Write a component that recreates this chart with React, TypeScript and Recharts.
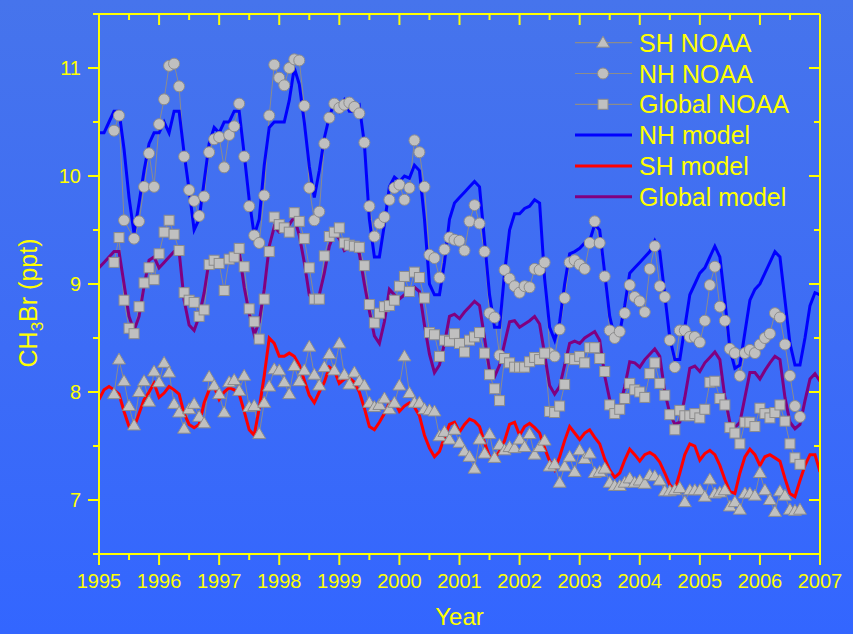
import React from "react";
import { LineChart, Line, XAxis, YAxis, Legend, Label } from "recharts";

const YELLOW = "#ffff00";
const FONT = '"Liberation Sans", Arial, Helvetica, sans-serif';
const MARK_FILL = "#c0c0c0";
const MARK_EDGE = "#8c8c8c";

const YEARS = [1995, 1996, 1997, 1998, 1999, 2000, 2001, 2002, 2003, 2004, 2005, 2006, 2007];
const PPT = [7, 8, 9, 10, 11];

// model output, one value per month from Jan 1995 to Jan 2007
const NH_MODEL = [
  10.4, 10.4, 10.5, 10.6, 10.6, 10.25, 9.8, 9.47, 9.75, 10.05, 10.3, 10.4,
  10.4, 10.5, 10.4, 10.6, 10.6, 10.21, 9.87, 9.5, 9.6, 9.95, 10.3, 10.45,
  10.4, 10.5, 10.5, 10.6, 10.6, 10.2, 9.78, 9.45, 9.6, 10.1, 10.45, 10.5,
  10.5, 10.5, 10.7, 11.0, 10.85, 10.5, 10.09, 9.8, 10.05, 10.35, 10.55, 10.68,
  10.6, 10.7, 10.6, 10.6, 10.65, 10.3, 9.6, 9.25, 9.25, 9.55, 9.9, 9.99,
  9.95, 10.0, 9.98, 10.1, 10.05, 9.6, 9.0, 8.9, 8.9, 9.2, 9.6, 9.75,
  9.8, 9.85, 9.9, 9.95, 9.9, 9.4, 8.9, 8.6, 8.6, 9.1, 9.5, 9.65,
  9.65, 9.7, 9.72, 9.78, 9.75, 9.05, 8.6, 8.48, 8.65, 9.0, 9.28, 9.3,
  9.33, 9.38, 9.4, 9.55, 9.5, 9.1, 8.7, 8.5, 8.55, 8.8, 9.1, 9.15,
  9.2, 9.25, 9.3, 9.4, 9.3, 8.9, 8.5, 8.3, 8.3, 8.6, 8.9, 9.0,
  9.1, 9.15, 9.25, 9.35, 9.25, 8.85, 8.4, 8.22, 8.25, 8.55, 8.85, 8.95,
  9.0, 9.1, 9.2, 9.3, 9.25, 8.85, 8.45, 8.25, 8.25, 8.5, 8.8, 8.92,
  8.9,
];

const SH_MODEL = [
  7.93, 8.02, 8.05, 8.02, 7.98, 7.82, 7.68, 7.67, 7.8, 7.93, 8.0, 8.08,
  7.95, 7.99, 8.05, 8.02, 7.98, 7.8, 7.7, 7.67, 7.7, 7.9, 8.02, 8.05,
  7.93, 8.0, 8.04, 8.02, 7.98, 7.82, 7.65, 7.6, 7.85, 8.15, 8.5, 8.45,
  8.33, 8.33, 8.36, 8.33, 8.25, 8.11, 7.97, 7.9, 8.0, 8.09, 8.23, 8.2,
  8.08, 8.12, 8.13, 8.09, 8.0, 7.85, 7.68, 7.65, 7.72, 7.8, 7.9, 7.92,
  7.82, 7.87, 7.9, 7.86, 7.78, 7.6, 7.48, 7.4, 7.45, 7.58, 7.7, 7.72,
  7.63, 7.7, 7.75, 7.73, 7.68, 7.53, 7.4, 7.38, 7.45, 7.55, 7.7, 7.72,
  7.6, 7.68, 7.71, 7.67, 7.62, 7.48, 7.36, 7.28, 7.4, 7.55, 7.68, 7.62,
  7.56, 7.62, 7.65, 7.58, 7.52, 7.38, 7.28, 7.21, 7.25, 7.37, 7.47, 7.42,
  7.36, 7.42, 7.44, 7.41, 7.35, 7.25, 7.14, 7.09, 7.25, 7.42, 7.52, 7.5,
  7.37, 7.43, 7.46, 7.42, 7.32, 7.19, 7.08, 7.06, 7.25, 7.4, 7.47, 7.42,
  7.32, 7.4, 7.42, 7.39, 7.36, 7.2, 7.06, 7.03, 7.18, 7.32, 7.42, 7.42,
  7.26,
];

const GLOBAL_MODEL = [
  9.15, 9.2, 9.25, 9.3, 9.3, 9.0, 8.7, 8.57, 8.7, 8.98, 9.22, 9.25,
  9.15, 9.2, 9.25, 9.3, 9.3, 8.85, 8.62, 8.57, 8.7, 8.92, 9.22, 9.24,
  9.17, 9.22, 9.25, 9.28, 9.3, 8.97, 8.73, 8.53, 8.65, 8.95, 9.35, 9.53,
  9.48, 9.5, 9.55, 9.62, 9.45, 9.2, 8.9, 8.84, 8.9, 9.1, 9.35, 9.47,
  9.42, 9.31, 9.34, 9.38, 9.28, 9.0, 8.75, 8.52, 8.45, 8.65, 8.95, 8.9,
  8.86, 8.9, 8.93, 8.97, 8.93, 8.62, 8.35, 8.18, 8.25, 8.45, 8.7, 8.72,
  8.68, 8.74, 8.79, 8.84, 8.8, 8.5, 8.2, 8.14, 8.25, 8.45, 8.65, 8.66,
  8.6, 8.63, 8.66, 8.7, 8.63, 8.35, 8.06, 7.98, 8.05, 8.25, 8.45, 8.47,
  8.45, 8.5, 8.53, 8.56, 8.48, 8.15, 7.93, 7.84, 7.86, 8.05, 8.28, 8.27,
  8.23, 8.3, 8.35, 8.4, 8.33, 8.0, 7.8, 7.7, 7.72, 7.95, 8.22, 8.24,
  8.19, 8.27, 8.32, 8.37, 8.3, 7.95, 7.72, 7.67, 7.72, 7.95, 8.18, 8.18,
  8.12, 8.2, 8.27, 8.33, 8.3, 7.95, 7.72, 7.66, 7.7, 7.92, 8.12, 8.17,
  8.1,
];

// NOAA flask monthly means, Apr 1995 to Sep 2006
const NH_NOAA = [
  10.42, 10.56, 9.59, null, 9.42, 9.58, 9.9, 10.21, 9.9, 10.48, 10.71, 11.02,
  11.04, 10.83, 10.18, 9.87, 9.77, 9.63, 9.81, 10.22, 10.34, 10.36, 10.08, 10.38,
  10.46, 10.67, 10.18, 9.72, 9.45, 9.38, 9.82, 10.56, 11.03, 10.91, 10.84, 11.0,
  11.08, 11.07, 10.65, 9.89, 9.59, 9.67, 10.3, 10.54, 10.67, 10.63, 10.66, 10.68,
  10.64, 10.58, 10.31, 9.72, 9.44, 9.56, 9.62, 9.78, 9.89, 9.92, 9.78, 9.89,
  10.33, 10.22, 9.9, 9.27, 9.24, 9.06, 9.32, 9.43, 9.41, 9.4, 9.31, 9.58,
  9.73, 9.56, 9.3, 8.73, 8.69, 8.34, 9.13, 9.05, 8.98, 8.92, 8.98, 8.97,
  9.14, 9.13, 9.2, 8.36, 8.33, 8.58, 8.87, 9.2, 9.22, 9.18, 9.14, 9.38,
  9.58, 9.38, 9.07, 8.57, 8.5, 8.56, 8.73, 8.99, 8.88, 8.84, 8.74, 9.14,
  9.35, 8.98, 8.88, 8.48, 8.23, 8.57, 8.57, 8.51, 8.51, 8.46, 8.66, 8.99,
  9.16, 8.79, 8.66, 8.4, 8.36, 8.15, 8.36, 8.39, 8.36, 8.44, 8.5, 8.54,
  8.73, 8.69, 8.44, 8.15, 7.87, 7.77,
];

const SH_NOAA = [
  7.98, 8.3, 8.1, 7.87, 7.69, 8.0, 8.1, 7.91, 8.19, 8.09, 8.27, 8.18,
  7.89, 7.81, 7.66, 7.84, 7.89, 7.77, 7.71, 8.14, 8.06, 7.98, 7.81, 8.09,
  8.11, 8.01, 8.15, 7.86, 7.87, 7.61, 7.9, 8.05, 8.21, 8.2, 8.09, 7.98,
  8.24, 8.1, 8.2, 8.42, 8.16, 8.06, 8.23, 8.35, 8.2, 8.45, 8.16, 8.07,
  8.18, 8.1, 8.06, 7.9, 7.86, 7.88, 7.94, 7.84, 7.9, 8.06, 8.33, 7.99,
  7.9, 7.9, 7.84, 7.83, 7.82, 7.59, 7.63, 7.56, 7.65, 7.53, 7.45, 7.4,
  7.29, 7.56, 7.43, 7.61, 7.39, 7.51, 7.46, 7.49, 7.48, 7.56, 7.49, 7.61,
  7.42, 7.49, 7.55, 7.31, 7.33, 7.16, 7.31, 7.4, 7.26, 7.46, 7.38, 7.43,
  7.25, 7.26, 7.29, 7.16, 7.13, 7.13, 7.16, 7.2, 7.16, 7.18, 7.15, 7.23,
  7.22, 7.18, 7.08, 7.08, 7.09, 7.11, 6.98, 7.09, 7.09, 7.09, 7.03, 7.19,
  7.06, 7.07, 7.09, 6.94, 6.98, 6.91, 7.06, 7.06, 7.04, 7.25, 7.09, 7.0,
  6.89, 7.08, 7.04, 6.91, 6.9, 6.91,
];

const GLOBAL_NOAA = [
  9.2, 9.43, 8.85, 8.59, 8.54, 8.79, 9.01, 9.15, 9.04, 9.28, 9.48, 9.59,
  9.46, 9.31, 8.92, 8.85, 8.83, 8.7, 8.76, 9.18, 9.22, 9.19, 8.94, 9.23,
  9.25, 9.33, 9.16, 8.77, 8.65, 8.49, 8.86, 9.3, 9.62, 9.55, 9.52, 9.48,
  9.66, 9.58, 9.42, 9.15, 8.86, 8.86, 9.26, 9.44, 9.48, 9.52, 9.38, 9.36,
  9.35, 9.34, 9.17, 8.81, 8.64, 8.73, 8.79, 8.8, 8.85, 8.98, 9.07, 8.93,
  9.11, 9.06, 8.87, 8.55, 8.53, 8.33, 8.48, 8.47, 8.54, 8.45, 8.37, 8.48,
  8.51, 8.55, 8.36, 8.16, 8.03, 7.92, 8.31, 8.27, 8.23, 8.23, 8.23, 8.28,
  8.32, 8.3, 8.36, 7.82, 7.81, 7.87, 8.07, 8.31, 8.3, 8.33, 8.27, 8.41,
  8.41, 8.31, 8.19, 7.88, 7.8, 7.84, 7.94, 8.08, 8.02, 8.0, 7.95, 8.17,
  8.27, 8.08, 7.97, 7.79, 7.65, 7.83, 7.78, 7.78, 7.8, 7.76, 7.84, 8.09,
  8.1, 7.94, 7.88, 7.67, 7.62, 7.52, 7.72, 7.72, 7.68, 7.85, 7.8, 7.76,
  7.81, 7.88, 7.73, 7.52, 7.39, 7.33,
];

const modelRows = NH_MODEL.map((v, i) => ({
  t: 1995 + i / 12,
  nh: v,
  sh: SH_MODEL[i],
  gl: GLOBAL_MODEL[i],
}));

const noaaRows = NH_NOAA.map((v, i) => ({
  t: 1995.25 + i / 12,
  nh: v,
  sh: SH_NOAA[i],
  gl: GLOBAL_NOAA[i],
}));

type Kind = "tri" | "circle" | "square";

const SERIES: { name: string; key: string; rows: any[]; color: string; marker?: Kind }[] = [
  { name: "SH NOAA", key: "sh", rows: noaaRows, color: MARK_EDGE, marker: "tri" },
  { name: "NH NOAA", key: "nh", rows: noaaRows, color: MARK_EDGE, marker: "circle" },
  { name: "Global NOAA", key: "gl", rows: noaaRows, color: MARK_EDGE, marker: "square" },
  { name: "NH model", key: "nh", rows: modelRows, color: "#0000ff" },
  { name: "SH model", key: "sh", rows: modelRows, color: "#ff0000" },
  { name: "Global model", key: "gl", rows: modelRows, color: "#800080" },
];

const xTicks = YEARS.flatMap((y, i) => (i < YEARS.length - 1 ? [y, y + 0.5] : [y]));
const yTicks = [6.5, ...PPT.flatMap((v) => [v, v + 0.5])];

function Marker({ kind, cx, cy }: { kind: Kind; cx: number; cy: number }) {
  const style = { fill: MARK_FILL, stroke: MARK_EDGE, strokeWidth: 1 };
  if (kind === "circle") return <circle cx={cx} cy={cy} r={5.5} {...style} />;
  if (kind === "square") return <rect x={cx - 5} y={cy - 5} width={10} height={10} {...style} />;
  return <path d={`M${cx},${cy - 6.5}L${cx + 6.5},${cy + 4.5}L${cx - 6.5},${cy + 4.5}Z`} {...style} />;
}

const tickLen = (v: number) => (Number.isInteger(v) ? 11 : 6);

const BottomTick = ({ x, y, payload }: any) => (
  <g>
    <line x1={x} x2={x} y1={y} y2={y + tickLen(payload.value)} stroke={YELLOW} strokeWidth={2} />
    {Number.isInteger(payload.value) && (
      <text x={x} y={y + 34} textAnchor="middle" fill={YELLOW} fontSize={20} fontFamily={FONT}>
        {payload.value}
      </text>
    )}
  </g>
);

const TopTick = ({ x, y, payload }: any) => (
  <line x1={x} x2={x} y1={y} y2={y + tickLen(payload.value)} stroke={YELLOW} strokeWidth={2} />
);

const LeftTick = ({ x, y, payload }: any) => (
  <g>
    <line x1={x} x2={x - tickLen(payload.value)} y1={y} y2={y} stroke={YELLOW} strokeWidth={2} />
    {Number.isInteger(payload.value) && (
      <text x={x - 18} y={y + 7} textAnchor="end" fill={YELLOW} fontSize={20} fontFamily={FONT}>
        {payload.value}
      </text>
    )}
  </g>
);

const RightTick = ({ x, y, payload }: any) => (
  <line x1={x} x2={x - tickLen(payload.value)} y1={y} y2={y} stroke={YELLOW} strokeWidth={2} />
);

const YearTitle = ({ viewBox }: any) => (
  <text x={viewBox.x + viewBox.width / 2} y={viewBox.y + 71} textAnchor="middle" fill={YELLOW} fontSize={24} fontFamily={FONT}>
    Year
  </text>
);

const PptTitle = ({ viewBox }: any) => {
  const cx = 37;
  const cy = viewBox.y + viewBox.height / 2 + 19;
  return (
    <text x={cx} y={cy} transform={`rotate(-90, ${cx}, ${cy})`} textAnchor="middle" fill={YELLOW} fontSize={25} fontFamily={FONT}>
      <tspan>CH</tspan>
      <tspan dy={6} fontSize={17}>3</tspan>
      <tspan dy={-6}>Br (ppt)</tspan>
    </text>
  );
};

const renderLegend = () => (
  <svg width={240} height={185} style={{ display: "block", overflow: "visible" }}>
    {SERIES.map((s, i) => {
      const cy = 14.7 + i * 30.8;
      return (
        <g key={s.name}>
          <line x1={5} x2={62} y1={cy} y2={cy} stroke={s.color} strokeWidth={s.marker ? 1.2 : 3} />
          {s.marker && <Marker kind={s.marker} cx={33} cy={cy} />}
          <text x={69} y={cy + 9} fill={YELLOW} fontSize={25} fontFamily={FONT}>
            {s.name}
          </text>
        </g>
      );
    })}
  </svg>
);

export default function App() {
  return (
    <div
      style={{
        position: "fixed",
        left: 0,
        top: 0,
        width: 853,
        height: 634,
        background: "linear-gradient(180deg, #4674ec 0%, #3d6cf6 55%, #3366ff 100%)",
      }}
    >
      <LineChart width={853} height={634} margin={{ top: 0, right: 0, bottom: 0, left: 0 }}>
        <XAxis
          xAxisId="x"
          type="number"
          dataKey="t"
          domain={[1995, 2007]}
          allowDataOverflow
          ticks={xTicks}
          interval={0}
          height={80}
          tickSize={0}
          tickMargin={0}
          tickLine={false}
          tick={<BottomTick />}
          axisLine={{ stroke: YELLOW, strokeWidth: 2 }}
        >
          <Label content={YearTitle} />
        </XAxis>
        <XAxis
          xAxisId="top"
          orientation="top"
          type="number"
          dataKey="t"
          domain={[1995, 2007]}
          allowDataOverflow
          ticks={xTicks}
          interval={0}
          height={14}
          tickSize={0}
          tickMargin={0}
          tickLine={false}
          tick={<TopTick />}
          axisLine={{ stroke: YELLOW, strokeWidth: 2 }}
        />
        <YAxis
          yAxisId="y"
          type="number"
          domain={[6.5, 11.5]}
          allowDataOverflow
          ticks={yTicks}
          interval={0}
          width={99}
          tickSize={0}
          tickMargin={0}
          tickLine={false}
          tick={<LeftTick />}
          axisLine={{ stroke: YELLOW, strokeWidth: 2 }}
        >
          <Label content={PptTitle} />
        </YAxis>
        <YAxis
          yAxisId="r"
          orientation="right"
          type="number"
          domain={[6.5, 11.5]}
          allowDataOverflow
          ticks={yTicks}
          interval={0}
          width={33}
          tickSize={0}
          tickMargin={0}
          tickLine={false}
          tick={<RightTick />}
          axisLine={{ stroke: YELLOW, strokeWidth: 2 }}
        />
        {SERIES.map((s) => (
          <Line
            key={s.name}
            name={s.name}
            xAxisId="x"
            yAxisId="y"
            data={s.rows}
            dataKey={s.key}
            type="linear"
            stroke={s.color}
            strokeWidth={s.marker ? 1 : 3}
            connectNulls
            isAnimationActive={false}
            dot={
              s.marker
                ? (p: any) =>
                    p.cy == null ? (
                      <g key={`${s.name}-${p.index}`} />
                    ) : (
                      <Marker key={`${s.name}-${p.index}`} kind={s.marker!} cx={p.cx} cy={p.cy} />
                    )
                : false
            }
            activeDot={false}
          />
        ))}
        <Legend
          layout="vertical"
          align="center"
          verticalAlign="middle"
          content={renderLegend}
          wrapperStyle={{ left: 570, top: 28, width: 240, height: 185 }}
        />
      </LineChart>
    </div>
  );
}
